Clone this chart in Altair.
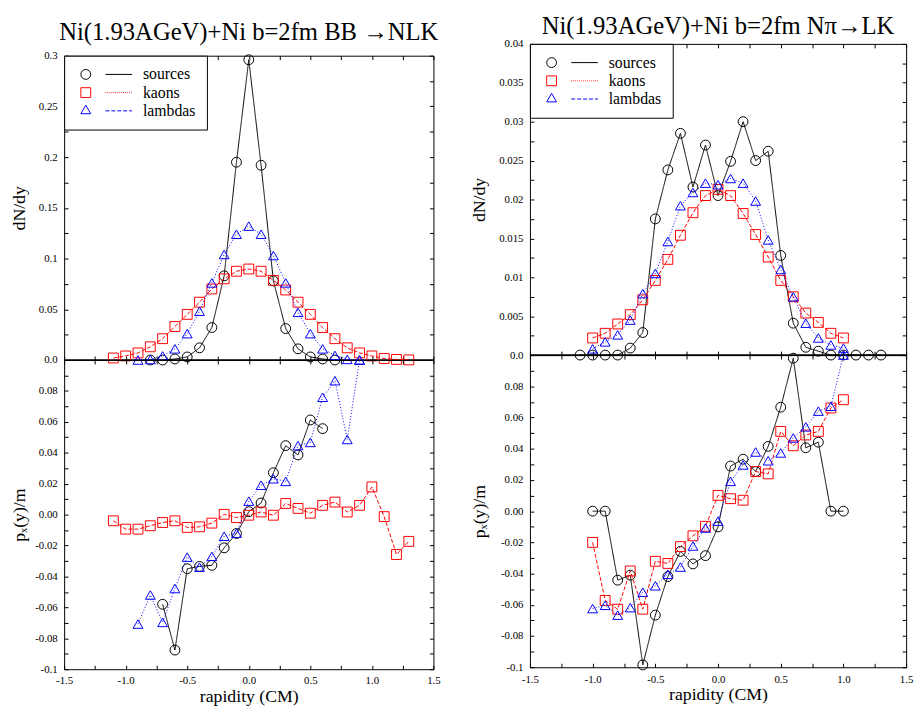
import altair as alt
import pandas as pd

FONT = "Liberation Serif, DejaVu Serif, serif"

# ---------------- rapidity grids (CM) ----------------
RAP_A = [-1.1, -1.0, -0.9, -0.8, -0.7, -0.6, -0.5, -0.4, -0.3, -0.2, -0.1, 0.0,
         0.1, 0.2, 0.3, 0.4, 0.5, 0.6, 0.7, 0.8, 0.9, 1.0, 1.1, 1.2, 1.3]
RAP_B = [-1.0, -0.9, -0.8, -0.7, -0.6, -0.5, -0.4, -0.3, -0.2, -0.1, 0.0,
         0.1, 0.2, 0.3, 0.4, 0.5, 0.6, 0.7, 0.8, 0.9, 1.0]
RAP_C = [-0.9, -0.8, -0.7, -0.6, -0.5, -0.4, -0.3, -0.2, -0.1, 0.0,
         0.1, 0.2, 0.3, 0.4, 0.5, 0.6, 0.7, 0.8, 0.9]
RAP_D = [-0.8, -0.7, -0.6, -0.5, -0.4, -0.3, -0.2, -0.1, 0.0,
         0.1, 0.2, 0.3, 0.4, 0.5, 0.6, 0.7]
RAP_E = [-0.7, -0.6, -0.5, -0.4, -0.3, -0.2, -0.1, 0.0,
         0.1, 0.2, 0.3, 0.4, 0.5, 0.6]

# ---------------- BB -> NLK : dN/dy ----------------
BB_DNDY_SOURCES = [0.0, 0.0, 0.001, 0.003, 0.012, 0.032, 0.083, 0.195, 0.296,
                   0.192, 0.078, 0.031, 0.011, 0.003, 0.001, 0.0]            # RAP_D
BB_DNDY_KAONS = [0.002, 0.004, 0.007, 0.013, 0.021, 0.033, 0.045, 0.057, 0.070,
                 0.080, 0.0875, 0.0897, 0.0875, 0.0785, 0.069, 0.057, 0.045, 0.032,
                 0.021, 0.012, 0.007, 0.004, 0.0015, 0.0006, 0.0001]         # RAP_A
BB_DNDY_LAMBDAS = [0.0, 0.0005, 0.004, 0.011, 0.026, 0.048, 0.076, 0.104, 0.124,
                   0.132, 0.124, 0.103, 0.076, 0.047, 0.026, 0.011, 0.0045,
                   0.0006, 0.0]                                               # RAP_C

# ---------------- BB -> NLK : px(y)/m ----------------
BB_PX_SOURCES = [-0.058, -0.0876, -0.035, -0.0335, -0.0328, -0.0215, -0.0122,
                 0.0019, 0.0075, 0.0271, 0.0446, 0.0386, 0.0612, 0.0556]      # RAP_E
BB_PX_KAONS = [-0.004, -0.0094, -0.0094, -0.0072, -0.0051, -0.004, -0.0083,
               -0.0079, -0.0055, 0.0002, -0.0019, -0.0004, 0.0017, -0.0004,
               0.0072, 0.004, 0.0009, 0.006, 0.0081, 0.0017, 0.006, 0.0179,
               -0.0013, -0.0258, -0.0173]                                     # RAP_A
BB_PX_LAMBDAS = [-0.0708, -0.052, -0.0697, -0.0478, -0.0275, -0.034, -0.027,
                 -0.014, -0.012, 0.0087, 0.019, 0.0232, 0.0215, 0.0446, 0.0467,
                 0.0759, 0.0866, 0.0486, 0.1]                                 # RAP_C

# ---------------- N pi -> LK : dN/dy ----------------
NP_DNDY_SOURCES = [0.0, 0.0, 0.0, 0.0, 0.0009, 0.0029, 0.0175, 0.0238, 0.0285,
                   0.0216, 0.0270, 0.0205, 0.0249, 0.0300, 0.0250, 0.0262, 0.0128,
                   0.0041, 0.001, 0.0005, 0.0, 0.0, 0.0, 0.0, 0.0]            # RAP_A
NP_DNDY_KAONS = [0.0022, 0.0028, 0.0040, 0.0052, 0.0071, 0.0096, 0.0123, 0.0154,
                 0.0183, 0.0205, 0.0213, 0.0205, 0.0182, 0.0155, 0.0126, 0.0096,
                 0.0075, 0.0054, 0.0042, 0.0028, 0.0022]                      # RAP_B
NP_DNDY_LAMBDAS = [0.0008, 0.0017, 0.0026, 0.0045, 0.0079, 0.0105, 0.0146, 0.0192,
                   0.0209, 0.0221, 0.0219, 0.0227, 0.0221, 0.0198, 0.0148, 0.0110,
                   0.0075, 0.0041, 0.0022, 0.0013, 0.0009]                    # RAP_B

# ---------------- N pi -> LK : px(y)/m ----------------
NP_PX_SOURCES = [0.0, 0.0, -0.0442, -0.041, -0.0985, -0.0666, -0.0419, -0.0258,
                 -0.0338, -0.0285, -0.0101, 0.0289, 0.0333, 0.0254, 0.0415, 0.0666,
                 0.098, 0.0406, 0.0442, 0.0, 0.0]                             # RAP_B
NP_PX_KAONS = [-0.020, -0.0572, -0.0628, -0.0383, -0.0628, -0.0321, -0.0335,
               -0.0227, -0.0158, -0.0097, 0.0101, 0.008, 0.007, 0.0254, 0.0239,
               0.0511, 0.0419, 0.0488, 0.0511, 0.0661, 0.0714]                # RAP_B
NP_PX_LAMBDAS = [-0.0624, -0.0603, -0.0666, -0.0618, -0.0519, -0.0478, -0.0404,
                 -0.0358, -0.0223, -0.0108, -0.0064, 0.0191, 0.0296, 0.0379,
                 0.0323, 0.0373, 0.0469, 0.054, 0.0641, 0.0672, 0.1]          # RAP_B

# ---------------- tick labels ----------------
X_LABEL_AT = [-1.5, -1.0, -0.5, 0.0, 0.5, 1.0, 1.5]
X_LABEL_TXT = ["-1.5", "-1.0", "-0.5", "0.0", "0.5", "1.0", "1.5"]
BB_DNDY_LABEL_AT = [0.0, 0.05, 0.1, 0.15, 0.2, 0.25, 0.3]
BB_DNDY_LABEL_TXT = ["0.0", "0.05", "0.1", "0.15", "0.2", "0.25", "0.3"]
NP_DNDY_LABEL_AT = [0.0, 0.005, 0.01, 0.015, 0.02, 0.025, 0.03, 0.035, 0.04]
NP_DNDY_LABEL_TXT = ["0.0", "0.005", "0.01", "0.015", "0.02", "0.025", "0.03", "0.035", "0.04"]
PX_LABEL_AT = [-0.1, -0.08, -0.06, -0.04, -0.02, 0.0, 0.02, 0.04, 0.06, 0.08]
PX_LABEL_TXT = ["-0.1", "-0.08", "-0.06", "-0.04", "-0.02", "0.00", "0.02", "0.04", "0.06", "0.08"]

SERIES = ["sources", "kaons", "lambdas"]
COLORS = ["#000000", "#ff0000", "#0000ff"]
SHAPES = ["circle", "square", "triangle-up"]
LINE_DASH = [[1, 0], [4, 2], [1, 2]]

X_DOMAIN = [-1.5, 1.5]
X_TICKS = [round(-1.5 + 0.25 * i, 4) for i in range(13)]
BB_DNDY_TICKS = [round(0.025 * i, 5) for i in range(13)]
NP_DNDY_TICKS = [round(0.0025 * i, 6) for i in range(17)]
PX_TICKS = [round(-0.1 + 0.01 * i, 5) for i in range(21)]


def dashed(x0, x1, on, off):
    out, x = [], x0
    while x < x1 - 1e-9:
        e = min(x + on, x1)
        out.append(f"M{x:.3f},0L{e:.3f},0")
        x += on + off
    return "".join(out)


LEG_MARK = ["M1,0A1,1 0 1,1 -1,0A1,1 0 1,1 1,0Z",
            "M-1,-1L1,-1L1,1L-1,1Z",
            "M0,-1.155L1,0.577L-1,0.577Z"]
LEG_LINE = ["M4,0L9.4,0", dashed(4, 9.4, 0.16, 0.24), dashed(4, 9.4, 0.8, 0.4)]
LEG_PATHS = [m + l for m, l in zip(LEG_MARK, LEG_LINE)]


def label_expr(at, txt):
    expr = "''"
    for v, s in reversed(list(zip(at, txt))):
        expr = f"abs(datum.value - ({v})) < 1e-9 ? '{s}' : {expr}"
    return expr


def make_axis(orient, ticks, labels=None, title=None, title_x=None, title_y=None):
    kw = dict(orient=orient, values=ticks, domain=False, grid=False, ticks=True,
              tickSize=4, tickWidth=1, tickColor="black", offset=-4)
    if labels:
        kw.update(labels=True, labelExpr=label_expr(*labels), labelFont=FONT,
                  labelFontSize=11, labelColor="black",
                  labelPadding=6 if orient == "bottom" else 7,
                  labelOverlap=False, labelFlush=False)
    else:
        kw.update(labels=False)
    if title:
        kw.update(title=title, titleFont=FONT, titleFontSize=18,
                  titleFontWeight="normal", titleColor="black")
        if title_x is not None:
            kw.update(titleX=title_x, titleBaseline="middle")
        if title_y is not None:
            kw.update(titleY=title_y, titleBaseline="alphabetic")
    else:
        kw["title"] = None
    return alt.Axis(**kw)


def make_panel(series, y_domain, y_ticks, y_labels, y_title, y_title_x, width, height,
               x_labelled, x_title_y=None, with_legend=False, title=None, title_offset=0):
    xs = alt.Scale(domain=X_DOMAIN, nice=False, zero=False)
    ys = alt.Scale(domain=y_domain, nice=False, zero=False)
    ax_x_main = make_axis("bottom", X_TICKS, (X_LABEL_AT, X_LABEL_TXT) if x_labelled else None,
                          title="rapidity (CM)" if x_labelled else None, title_y=x_title_y)
    ax_x_mirror = make_axis("top", X_TICKS)
    ax_y_main = make_axis("left", y_ticks, y_labels, title=y_title, title_x=y_title_x)
    ax_y_mirror = make_axis("right", y_ticks)
    layers = []
    if with_legend:
        zero = alt.Chart(pd.DataFrame({"zero": [0.0]})).mark_rule(
            color="black", strokeWidth=1.5).encode(
            y=alt.Y("zero:Q", scale=ys, axis=None))
        layers.append(zero)
    for i, (rap, val) in enumerate(series):
        df = pd.DataFrame({"rapidity": rap, "value": val})
        first = i == 0
        line = alt.Chart(df).mark_line(color=COLORS[i], strokeWidth=1,
                                       strokeDash=LINE_DASH[i]).encode(
            x=alt.X("rapidity:Q", scale=xs, axis=ax_x_main if first else None),
            y=alt.Y("value:Q", scale=ys, axis=ax_y_main if first else None))
        pts = alt.Chart(df).mark_point(shape=SHAPES[i], color=COLORS[i], filled=False,
                                       size=100, strokeWidth=1, opacity=1).encode(
            x=alt.X("rapidity:Q", scale=xs, axis=ax_x_mirror if first else None),
            y=alt.Y("value:Q", scale=ys, axis=ax_y_mirror if first else None))
        layers += [line, pts]
    if with_legend:
        leg = alt.Legend(orient="top-left", offset=0, title=None, padding=11,
                         strokeColor="black", fillColor="white", cornerRadius=0,
                         labelFont=FONT, labelFontSize=16, labelColor="black",
                         labelOffset=50, symbolSize=100, symbolStrokeWidth=1,
                         symbolOpacity=1, symbolOffset=3, rowPadding=2.5)
        legend_layer = alt.Chart(pd.DataFrame({"series": SERIES})).transform_filter(
            "false").mark_point(filled=False).encode(
            shape=alt.Shape("series:N", scale=alt.Scale(domain=SERIES, range=LEG_PATHS), legend=leg),
            color=alt.Color("series:N", scale=alt.Scale(domain=SERIES, range=COLORS), legend=leg))
        layers.append(legend_layer)
    chart = alt.layer(*layers).resolve_axis(x="independent", y="independent")
    props = dict(width=width, height=height)
    if title:
        props["title"] = alt.TitleParams(text=title, font=FONT, fontSize=25, fontWeight="normal",
                                         color="black", anchor="middle", frame="group",
                                         baseline="alphabetic", offset=title_offset)
    return chart.properties(**props)


LW, RW = 375, 382
left_top = make_panel([(RAP_D, BB_DNDY_SOURCES), (RAP_A, BB_DNDY_KAONS), (RAP_C, BB_DNDY_LAMBDAS)],
                      [0, 0.3], BB_DNDY_TICKS, (BB_DNDY_LABEL_AT, BB_DNDY_LABEL_TXT),
                      "dN/dy", -49, LW, 309, False, with_legend=True,
                      title="Ni(1.93AGeV)+Ni b=2fm BB \u2192NLK", title_offset=-15.5)
left_bot = make_panel([(RAP_E, BB_PX_SOURCES), (RAP_A, BB_PX_KAONS), (RAP_C, BB_PX_LAMBDAS)],
                      [-0.1, 0.1], PX_TICKS, (PX_LABEL_AT, PX_LABEL_TXT),
                      "p\u2093(y)/m", -49, LW, 314, True, x_title_y=37)
right_top = make_panel([(RAP_A, NP_DNDY_SOURCES), (RAP_B, NP_DNDY_KAONS), (RAP_B, NP_DNDY_LAMBDAS)],
                       [0, 0.04], NP_DNDY_TICKS, (NP_DNDY_LABEL_AT, NP_DNDY_LABEL_TXT),
                       "dN/dy", -55, RW, 316, False, with_legend=True,
                       title="Ni(1.93AGeV)+Ni b=2fm N\u03c0\u2192LK", title_offset=-20.5)
right_bot = make_panel([(RAP_B, NP_PX_SOURCES), (RAP_B, NP_PX_KAONS), (RAP_B, NP_PX_LAMBDAS)],
                       [-0.1, 0.1], PX_TICKS, (PX_LABEL_AT, PX_LABEL_TXT),
                       "p\u2093(y)/m", -55, RW, 317, True, x_title_y=37)

spacer = alt.Chart(pd.DataFrame({"s": [0]})).mark_point(opacity=0).encode(
    x=alt.value(0), y=alt.value(0)).properties(
    width=LW, height=12, view=alt.ViewBackground(stroke="transparent"))

left_col = alt.vconcat(spacer, left_top, left_bot, spacing=0, bounds="flush").resolve_scale(
    color="independent", shape="independent")
right_col = alt.vconcat(right_top, right_bot, spacing=0, bounds="flush").resolve_scale(
    color="independent", shape="independent")

chart = alt.hconcat(left_col, right_col, spacing=29).resolve_scale(
    color="independent", shape="independent").properties(
    padding={"left": 2, "top": 0, "right": 0, "bottom": 0},
    background="white").configure_view(stroke="black", strokeWidth=1)

chart.save("out.html", embed_options={"renderer": "svg", "actions": False})
